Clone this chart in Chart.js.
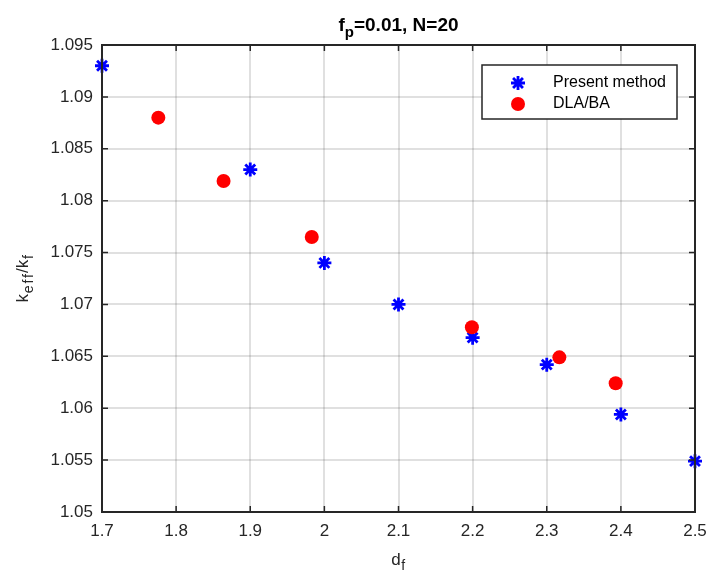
<!DOCTYPE html>
<html lang="en">
<head>
    <meta charset="UTF-8">
    <title>keff/kf vs df</title>
    <style>
        body { margin: 0; background: #fff; }
        #wrap { width: 708px; height: 572px; }
    </style>
</head>
<body>
    <div id="wrap"><canvas id="myChart" width="708" height="572"></canvas></div>

    <script src="https://cdn.jsdelivr.net/npm/chart.js"></script>
    <script>
        // fractal dimension vs. effective conductivity ratio
        var dfPresent = [1.7, 1.9, 2.0, 2.1, 2.2, 2.3, 2.4, 2.5];
        var keffPresent = [1.093, 1.083, 1.074, 1.070, 1.0668, 1.0642, 1.0594, 1.0549];

        var dfDla = [1.776, 1.864, 1.983, 2.199, 2.317, 2.393];
        var keffDla = [1.088, 1.0819, 1.0765, 1.0678, 1.0649, 1.0624];

        var xTicks = [1.7, 1.8, 1.9, 2.0, 2.1, 2.2, 2.3, 2.4, 2.5];
        var yTicks = [1.05, 1.055, 1.06, 1.065, 1.07, 1.075, 1.08, 1.085, 1.09, 1.095];

        var seriesNames = ['Present method', 'DLA/BA'];

        var FONT = '"Liberation Sans", Arial, Helvetica, sans-serif';
        var INK = '#262626';

        function toPoints(xs, ys) {
            return xs.map(function (x, i) { return { x: x, y: ys[i] }; });
        }

        function fmt(v) {
            return String(+v.toFixed(3));
        }

        // text with a subscript part, e.g. ["k","eff"], ["/k","f"]
        function drawSubText(ctx, parts, x, y, size, bold, align, subSpacing) {
            var w = 0;
            var sp = subSpacing || 0;
            var big = (bold ? 'bold ' : '') + size + 'px ' + FONT;
            var small = (bold ? 'bold ' : '') + Math.round(size * 0.8) + 'px ' + FONT;
            function subWidth(t) {
                ctx.font = small;
                return ctx.measureText(t).width + sp * t.length;
            }
            parts.forEach(function (p) {
                ctx.font = big; w += ctx.measureText(p[0]).width;
                w += subWidth(p[1]);
            });
            var cx = align === 'center' ? x - w / 2 : x;
            ctx.textAlign = 'left';
            ctx.textBaseline = 'alphabetic';
            parts.forEach(function (p) {
                ctx.font = big;
                ctx.fillText(p[0], cx, y);
                cx += ctx.measureText(p[0]).width;
                ctx.font = small;
                for (var i = 0; i < p[1].length; i++) {
                    ctx.fillText(p[1][i], cx + sp / 2, y + size * 0.3);
                    cx += ctx.measureText(p[1][i]).width + sp;
                }
            });
        }

        var axesBox = {
            id: 'axesBox',
            afterDatasetsDraw: function (chart) {
                var ctx = chart.ctx;
                var a = chart.chartArea;
                var xs = chart.scales.x, ys = chart.scales.y;
                var tl = 6;
                ctx.save();
                ctx.strokeStyle = INK;
                ctx.lineWidth = 1.5;

                // inward ticks on all four sides
                ctx.beginPath();
                xTicks.forEach(function (v) {
                    var px = xs.getPixelForValue(v);
                    ctx.moveTo(px, a.bottom); ctx.lineTo(px, a.bottom - tl);
                    ctx.moveTo(px, a.top); ctx.lineTo(px, a.top + tl);
                });
                yTicks.forEach(function (v) {
                    var py = ys.getPixelForValue(v);
                    ctx.moveTo(a.left, py); ctx.lineTo(a.left + tl, py);
                    ctx.moveTo(a.right, py); ctx.lineTo(a.right - tl, py);
                });
                ctx.stroke();

                ctx.lineWidth = 2;
                ctx.strokeRect(a.left, a.top, a.right - a.left, a.bottom - a.top);

                // title
                ctx.fillStyle = '#000';
                var midX = (a.left + a.right) / 2;
                drawSubText(ctx, [['f', 'p'], ['=0.01, N=20', '']], midX, 31, 19, true, 'center');

                // axis labels
                ctx.fillStyle = INK;
                drawSubText(ctx, [['d', 'f']], midX, 565, 17, false, 'center', 1);
                ctx.save();
                ctx.translate(28, (a.top + a.bottom) / 2);
                ctx.rotate(-Math.PI / 2);
                drawSubText(ctx, [['k', 'eff'], ['/k', 'f']], 0, 0, 17, false, 'center', 1.8);
                ctx.restore();

                // legend
                var lx = 482, ly = 65, lw = 195, lh = 54;
                ctx.fillStyle = '#fff';
                ctx.fillRect(lx, ly, lw, lh);
                ctx.strokeStyle = INK;
                ctx.lineWidth = 1.5;
                ctx.strokeRect(lx, ly, lw, lh);
                var rows = [83, 104];
                chart.data.datasets.forEach(function (ds, i) {
                    ctx.save();
                    ctx.strokeStyle = ds.borderColor;
                    ctx.fillStyle = ds.backgroundColor;
                    ctx.lineWidth = ds.borderWidth;
                    Chart.helpers.drawPoint(ctx, {
                        pointStyle: ds.pointStyle, radius: ds.pointRadius,
                        rotation: 0, borderWidth: ds.borderWidth
                    }, 518, rows[i]);
                    ctx.restore();
                    ctx.fillStyle = '#000';
                    ctx.font = '16px ' + FONT;
                    ctx.textAlign = 'left';
                    ctx.textBaseline = 'middle';
                    ctx.fillText(seriesNames[i], 553, rows[i]);
                });
                ctx.restore();
            }
        };

        var ctx = document.getElementById('myChart').getContext('2d');
        var myChart = new Chart(ctx, {
            type: 'scatter',
            data: {
                datasets: [
                    {
                        label: seriesNames[0],
                        data: toPoints(dfPresent, keffPresent),
                        pointStyle: 'star',
                        pointRadius: 7,
                        borderWidth: 2.8,
                        borderColor: '#0000ff',
                        backgroundColor: '#0000ff',
                        clip: false,
                        order: 1
                    },
                    {
                        label: seriesNames[1],
                        data: toPoints(dfDla, keffDla),
                        pointStyle: 'circle',
                        pointRadius: 7,
                        borderWidth: 0,
                        borderColor: '#ff0000',
                        backgroundColor: '#ff0000',
                        clip: false,
                        order: 0
                    }
                ]
            },
            options: {
                responsive: false,
                animation: false,
                events: [],
                layout: { padding: { top: 45, right: 13, left: 0, bottom: 0 } },
                plugins: {
                    legend: { display: false },
                    title: { display: false },
                    tooltip: { enabled: false }
                },
                scales: {
                    x: {
                        type: 'linear',
                        min: 1.7,
                        max: 2.5,
                        afterBuildTicks: function (s) { s.ticks = xTicks.map(function (v) { return { value: v }; }); },
                        afterFit: function (s) { s.height = 60; s.paddingLeft = 0; s.paddingRight = 0; },
                        grid: { color: 'rgba(38,38,38,0.14)', lineWidth: 2, drawTicks: false },
                        border: { display: false },
                        ticks: {
                            padding: 9,
                            color: INK,
                            font: { family: FONT, size: 17 },
                            maxRotation: 0,
                            callback: function (v) { return fmt(v); }
                        }
                    },
                    y: {
                        type: 'linear',
                        min: 1.05,
                        max: 1.095,
                        afterBuildTicks: function (s) { s.ticks = yTicks.map(function (v) { return { value: v }; }); },
                        afterFit: function (s) { s.width = 102; s.paddingTop = 0; s.paddingBottom = 0; },
                        grid: { color: 'rgba(38,38,38,0.14)', lineWidth: 2, drawTicks: false },
                        border: { display: false },
                        ticks: {
                            padding: 9,
                            color: INK,
                            font: { family: FONT, size: 17 },
                            callback: function (v) { return fmt(v); }
                        }
                    }
                }
            },
            plugins: [axesBox]
        });
    </script>
</body>
</html>
